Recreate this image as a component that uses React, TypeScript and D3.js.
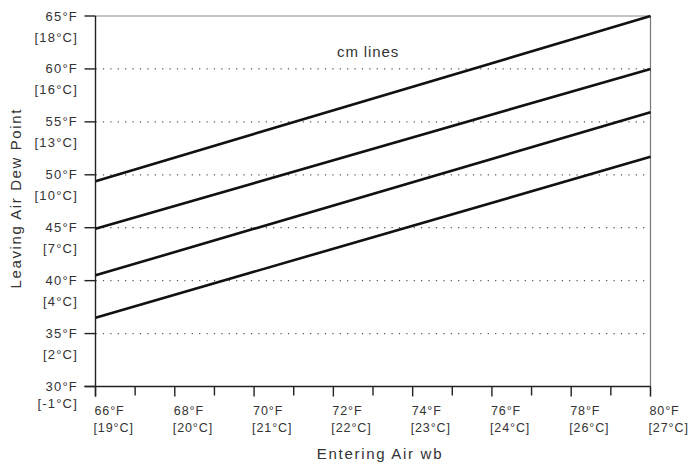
import React from "react";
import * as d3 from "d3";

const xTicksF = [66, 68, 70, 72, 74, 76, 78, 80];
const xTicksC = ["[19°C]", "[20°C]", "[21°C]", "[22°C]", "[23°C]", "[24°C]", "[26°C]", "[27°C]"];
const xMinorTicks = [67, 69, 71, 73, 75, 77, 79];
const yTicksF = [65, 60, 55, 50, 45, 40, 35, 30];
const yTicksC = ["[18°C]", "[16°C]", "[13°C]", "[10°C]", "[7°C]", "[4°C]", "[2°C]", "[-1°C]"];
const gridValues = [60, 55, 50, 45, 40, 35];
const lineXs = [66, 80];
const cmLine1 = [49.4, 65];
const cmLine2 = [44.9, 60];
const cmLine3 = [40.5, 55.9];
const cmLine4 = [36.5, 51.7];
const cmLines = [cmLine1, cmLine2, cmLine3, cmLine4];

const W = 690, H = 466;
const left = 95.5, right = 650.5, top = 16, bottom = 386.5;

export default function App() {
  const x = d3.scaleLinear().domain([66, 80]).range([left, right]);
  const y = d3.scaleLinear().domain([30, 65]).range([bottom, top]);
  const line = d3.line<[number, number]>().x(d => x(d[0])).y(d => y(d[1]));
  const font = "'Liberation Sans', Arial, sans-serif";
  const tc = "#333";
  return (
    <svg width={W} height={H} style={{ position: "absolute", left: 0, top: 0, background: "#fff" }} fontFamily={font}>
      {gridValues.map(v => (
        <line key={v} x1={left} x2={right} y1={y(v)} y2={y(v)} stroke="#555" strokeWidth={1.2} strokeDasharray="1.2,6.2" />
      ))}
      <line x1={left} x2={right} y1={y(65)} y2={y(65)} stroke="#888" strokeWidth={1.2} />
      <line x1={right} x2={right} y1={y(65)} y2={bottom + 10} stroke="#777" strokeWidth={1.2} />
      <line x1={left} x2={left} y1={y(65)} y2={bottom + 10} stroke="#222" strokeWidth={1.4} />
      <line x1={left - 11} x2={right} y1={bottom} y2={bottom} stroke="#222" strokeWidth={1.4} />
      {yTicksF.map(v => (
        <line key={"yt" + v} x1={left - 11} x2={left} y1={y(v)} y2={y(v)} stroke="#222" strokeWidth={1.4} />
      ))}
      {xTicksF.map(v => (
        <line key={"xt" + v} x1={x(v)} x2={x(v)} y1={bottom} y2={bottom + 10} stroke="#222" strokeWidth={1.4} />
      ))}
      {xMinorTicks.map(v => (
        <line key={"xm" + v} x1={x(v)} x2={x(v)} y1={bottom} y2={bottom + 9} stroke="#222" strokeWidth={1.4} />
      ))}
      {cmLines.map((vals, i) => (
        <path key={"l" + i} d={line(lineXs.map((xv, j) => [xv, vals[j]]) as [number, number][]) || ""} fill="none" stroke="#111" strokeWidth={2.6} />
      ))}
      {yTicksF.map((v, i) => (
        <g key={"yl" + v} fontSize={13} fill={tc} textAnchor="end" letterSpacing={1.2}>
          <text x={78} y={y(v) + 4.5}>{v}°F</text>
          <text x={78} y={y(v) + (i === yTicksF.length - 1 ? 21 : 25.5)}>{yTicksC[i]}</text>
        </g>
      ))}
      {xTicksF.map((v, i) => (
        <g key={"xl" + v} fontSize={12.5} fill={tc} textAnchor="start" letterSpacing={0.9}>
          <text x={x(v) - 1} y={415}>{v}°F</text>
          <text x={x(v) - 2} y={432}>{xTicksC[i]}</text>
        </g>
      ))}
      <text x={337} y={57} fontSize={15} fill={tc} letterSpacing={0.9}>cm lines</text>
      <text x={(left + right) / 2 + 7} y={459} fontSize={15} fill={tc} textAnchor="middle" letterSpacing={1.7}>Entering Air wb</text>
      <text transform={`translate(21,${(top + bottom) / 2 - 3}) rotate(-90)`} fontSize={15} fill={tc} textAnchor="middle" letterSpacing={1.6}>Leaving Air Dew Point</text>
    </svg>
  );
}
